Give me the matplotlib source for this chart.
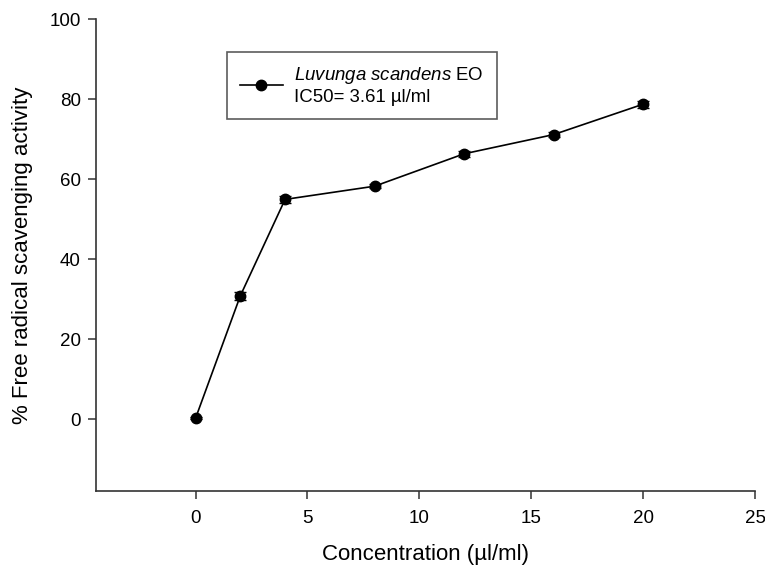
import matplotlib.pyplot as plt
import numpy as np

plt.rcParams['font.family'] = ['Liberation Sans', 'DejaVu Sans']
plt.rcParams['mathtext.fontset'] = 'custom'
plt.rcParams['mathtext.rm'] = 'Liberation Sans'
plt.rcParams['mathtext.it'] = 'Liberation Sans:italic'

# data
conc = [0, 2, 4, 8, 12, 16, 20]
activity = [0.2, 30.8, 54.9, 58.2, 66.3, 71.1, 78.7]
err = [0.3, 1.0, 0.8, 0.5, 0.7, 0.6, 0.9]

fig = plt.figure(figsize=(7.65, 5.69), dpi=100)
ax = fig.add_axes([96/765, 1 - 491/569, (755 - 96)/765, (491 - 19)/569])

ax.errorbar(conc, activity, yerr=err, fmt='none', ecolor='black',
            elinewidth=1, capsize=4, capthick=1)
ax.plot(conc, activity, color='black', lw=1.2, marker='o', markersize=7.5,
        label='$\\it{Luvunga\\ scandens}$ EO\nIC50= 3.61 µl/ml')

ax.set_xlim(-4.45, 25)
ax.set_ylim(-18, 100)
ax.set_xticks([0, 5, 10, 15, 20, 25])
ax.set_yticks([0, 20, 40, 60, 80, 100])
for s in ['top', 'right']:
    ax.spines[s].set_visible(False)
for s in ['left', 'bottom']:
    ax.spines[s].set_linewidth(1.2)
    ax.spines[s].set_color('#333333')
ax.tick_params(direction='out', length=6, width=1.1, labelsize=13.5, color='#333333')
ax.tick_params(axis='x', pad=8)
ax.tick_params(axis='y', pad=5)

ax.set_xlabel('Concentration (µl/ml)', fontsize=16, labelpad=12)
ax.set_ylabel('% Free radical scavenging activity', fontsize=16, labelpad=12)

leg = ax.legend(loc='upper left', bbox_to_anchor=((227 - 96)/659, 1 - (52 - 19)/472),
                fontsize=13.4, frameon=True, fancybox=False, edgecolor='#333333',
                handlelength=2.3, borderpad=0.7, handletextpad=0.6, borderaxespad=0,
                labelspacing=0.3)
leg.get_frame().set_linewidth(1.2)

fig.savefig('out.png', dpi=100)
